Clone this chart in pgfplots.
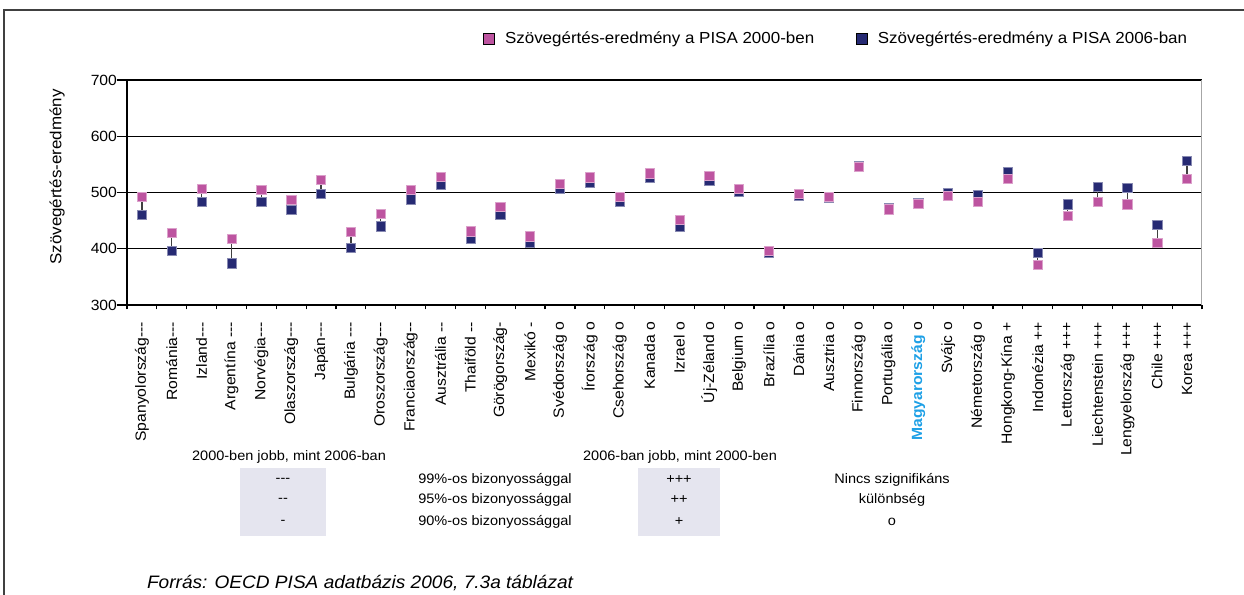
\documentclass[border=0pt]{standalone}
\usepackage{fontspec}
\setmainfont[Ligatures=TeXOff,FakeStretch=1.06]{Liberation Sans}
\usepackage{pgfplots}
\pgfplotsset{compat=1.18}
\usepackage{pgfplotstable}
\definecolor{pinkc}{RGB}{189,84,160}
\definecolor{bluec}{RGB}{38,42,115}
\definecolor{magy}{RGB}{30,160,230}
\definecolor{boxc}{RGB}{229,229,239}

\pgfplotstableread{
x a b
0 493 461
1 428 396
2 507 484
3 418 374
4 505 484
5 487 469
6 522 498
7 430 402
8 462 440
9 505 488
10 528 513
11 431 417
12 474 460
13 422 410
14 516 507
15 527 517
16 492 483
17 534 527
18 452 439
19 529 521
20 507 501
21 396 393
22 497 494
23 492 490
24 546 547
25 470 472
26 480 482
27 494 499
28 484 495
29 525 536
30 371 393
31 458 479
32 483 510
33 479 508
34 410 442
35 525 556
}\data

\begin{document}
\begin{tikzpicture}
\useasboundingbox (0,0) rectangle (622pt,-297.5pt);
\draw[black!75, line width=0.75pt] (2pt,-297.5pt) -- (2pt,-5pt) -- (622pt,-5pt);
\begin{axis}[
  at={(63.5pt,-152.5pt)}, anchor=south west,
  width=537.5pt, height=112.5pt, scale only axis,
  xmin=-0.5, xmax=35.5, ymin=300, ymax=700,
  axis x line*=bottom, axis y line*=left,
  axis line style={black, line width=0.65pt},
  xtick={0,...,35},
  xticklabels={Spanyolország---,Románia---,Izland---,Argentína ---,Norvégia---,Olaszország---,Japán---,Bulgária ---,Oroszország---,Franciaország--,Ausztrália --,Thaiföld --,Görögország-,Mexikó -,Svédország o,Írország o,Csehország o,Kanada o,Izrael o,Új-Zéland o,Belgium o,Brazília o,Dánia o,Ausztria o,Finnország o,Portugália o,{\textbf{\color{magy}Magyarország} o},Svájc o,Németország o,Hongkong-Kína +,Indonézia ++,Lettország +++,Liechtenstein +++,Lengyelország +++,Chile +++,Korea +++},
  minor xtick={-0.5,0.5,...,35.5},
  major x tick style={draw=none},
  minor tick length=2.2pt,
  tick align=outside,
  ytick={300,400,...,700},
  major tick length=5pt,
  tick style={black, line width=0.6pt},
  ymajorgrids, major grid style={black, line width=0.65pt},
  xticklabel style={rotate=90, anchor=east, font=\fontsize{7.4}{8.8}\selectfont},
  yticklabel style={font=\fontsize{7.4}{8.8}\selectfont, xshift=3.5pt},
  /pgf/number format/assume math mode=true,
  ylabel={Szövegértés-eredmény},
  ylabel style={at={(rel axis cs:-0.0651,0.569)}, anchor=center, font=\fontsize{8}{9.6}\selectfont},
  legend columns=2,
  legend style={at={(rel axis cs:0.3312,1.1822)}, anchor=west, draw=none, fill=none, inner sep=0pt, font=\fontsize{8}{9.6}\selectfont, /tikz/every even column/.append style={column sep=19pt}},
  legend image code/.code={\path[draw=none,fill=none] (0pt,0pt) -- (8.8pt,0pt); \draw[#1] plot coordinates {(2.9pt,0pt)};},
]
\addplot[forget plot, draw=none, mark=none, error bars/.cd, y dir=plus, y explicit, error mark=none, error bar style={draw=black!75, line width=0.6pt}] table[x=x, y=b, y error expr=\thisrow{a}-\thisrow{b}] {\data};
\addplot[forget plot, only marks, mark=square*, mark size=2.3pt, mark options={fill=bluec, draw=bluec!55!white, line width=0.3pt}] table[x=x, y=b] {\data};
\addplot[forget plot, only marks, mark=square*, mark size=2.3pt, mark options={fill=pinkc, draw=pinkc!55!white, line width=0.3pt}] table[x=x, y=a] {\data};
\addlegendimage{only marks, mark=square*, mark size=2.8pt, mark options={fill=pinkc, draw=none}}
\addlegendentry{Szövegértés-eredmény a PISA 2000-ben}
\addlegendimage{only marks, mark=square*, mark size=2.8pt, mark options={fill=bluec, draw=none}}
\addlegendentry{Szövegértés-eredmény a PISA 2006-ban}
\draw[gray!70, line width=0.8pt] (rel axis cs:1,0) -- (rel axis cs:1,1);
\end{axis}
\begin{scope}[font=\fontsize{6.85}{8.2}\selectfont]
\fill[boxc] (120pt,-234pt) rectangle (163pt,-268pt);
\fill[boxc] (319pt,-234pt) rectangle (360pt,-268pt);
\node at (144.5pt,-228.5pt) {2000-ben jobb, mint 2006-ban};
\node at (141.5pt,-240pt) {---};
\node at (141.5pt,-250pt) {--};
\node at (141.5pt,-261pt) {-};
\node at (247.5pt,-240pt) {99\%-os bizonyossággal};
\node at (247.5pt,-250pt) {95\%-os bizonyossággal};
\node at (247.5pt,-261pt) {90\%-os bizonyossággal};
\node at (340pt,-228.5pt) {2006-ban jobb, mint 2000-ben};
\node at (339.5pt,-240pt) {+++};
\node at (339.5pt,-250pt) {++};
\node at (339.5pt,-261pt) {+};
\node at (446pt,-240pt) {Nincs szignifikáns};
\node at (446pt,-250pt) {különbség};
\node at (446pt,-261pt) {o};
\end{scope}
\node[anchor=west, font=\fontsize{9}{10.8}\selectfont\itshape] at (70pt,-291.5pt) {Forrás: OECD PISA adatbázis 2006, 7.3a táblázat};
\end{tikzpicture}
\end{document}
